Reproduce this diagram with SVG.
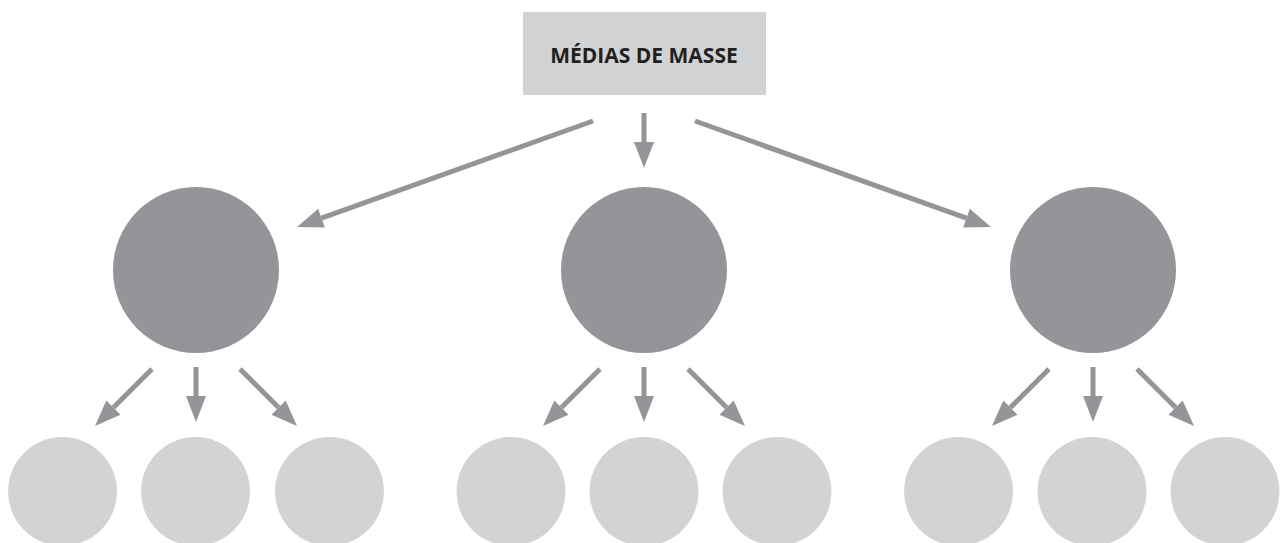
<svg xmlns="http://www.w3.org/2000/svg" width="1280" height="543" viewBox="0 0 1280 543">
  <style>
    .box { fill: #d1d2d4; }
    .label { font-family: "Open Sans", "Liberation Sans", sans-serif; font-weight: 700; font-size: 21px; fill: #231f20; }
    .big { fill: #939598; }
    .small { fill: #d1d3d4; }
    .arrow { stroke: #939598; stroke-width: 5; fill: none; marker-end: url(#head); }
  </style>
  <defs>
    <marker id="head" markerUnits="userSpaceOnUse" markerWidth="30" markerHeight="24" refX="0" refY="10" orient="auto" overflow="visible">
      <path d="M0,0 L26,10 L0,20 Z" fill="#939598"/>
    </marker>
  </defs>

  <g id="medias">
    <rect class="box" x="523" y="12" width="243" height="83"/>
    <text class="label" x="644" y="63" text-anchor="middle">MÉDIAS DE MASSE</text>
  </g>

  <g id="relay-left"><circle class="big" cx="196" cy="270" r="83"/></g>
  <g id="relay-center"><circle class="big" cx="644" cy="270" r="83"/></g>
  <g id="relay-right"><circle class="big" cx="1093" cy="270" r="83"/></g>

  <g id="audience-1"><circle class="small" cx="62.5" cy="491.5" r="54.5"/></g>
  <g id="audience-2"><circle class="small" cx="195.5" cy="491.5" r="54.5"/></g>
  <g id="audience-3"><circle class="small" cx="329.5" cy="491.5" r="54.5"/></g>
  <g id="audience-4"><circle class="small" cx="511" cy="491.5" r="54.5"/></g>
  <g id="audience-5"><circle class="small" cx="644" cy="491.5" r="54.5"/></g>
  <g id="audience-6"><circle class="small" cx="777" cy="491.5" r="54.5"/></g>
  <g id="audience-7"><circle class="small" cx="958.5" cy="491.5" r="54.5"/></g>
  <g id="audience-8"><circle class="small" cx="1092" cy="491.5" r="54.5"/></g>
  <g id="audience-9"><circle class="small" cx="1225" cy="491.5" r="54.5"/></g>

  <g id="connectors">
    <!-- media to relays -->
    <line class="arrow" x1="593" y1="121" x2="321.5" y2="218.2"/>
    <line class="arrow" x1="644" y1="113" x2="644" y2="142"/>
    <line class="arrow" x1="695" y1="121" x2="966.5" y2="218.2"/>
    <!-- left relay to audiences -->
    <line class="arrow" x1="152" y1="369" x2="113.4" y2="407.6"/>
    <line class="arrow" x1="196" y1="367" x2="196" y2="396"/>
    <line class="arrow" x1="240" y1="369" x2="278.6" y2="407.6"/>
    <!-- center relay to audiences -->
    <line class="arrow" x1="600" y1="369" x2="561.4" y2="407.6"/>
    <line class="arrow" x1="644" y1="367" x2="644" y2="396"/>
    <line class="arrow" x1="688" y1="369" x2="726.6" y2="407.6"/>
    <!-- right relay to audiences -->
    <line class="arrow" x1="1049" y1="369" x2="1010.4" y2="407.6"/>
    <line class="arrow" x1="1093" y1="367" x2="1093" y2="396"/>
    <line class="arrow" x1="1137" y1="369" x2="1175.6" y2="407.6"/>
  </g>
</svg>
